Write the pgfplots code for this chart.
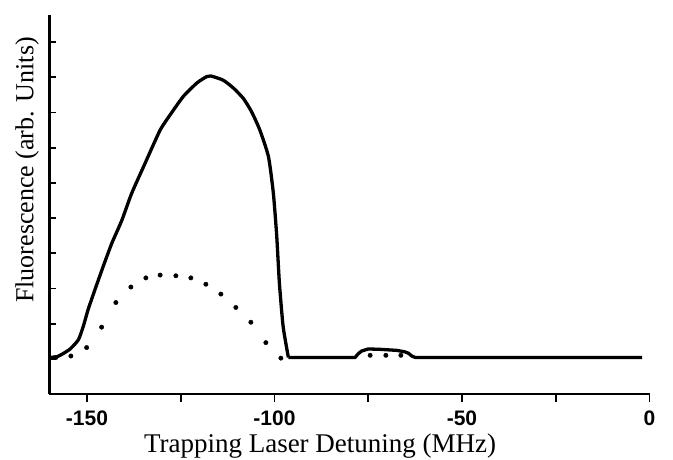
\documentclass[border=0pt]{standalone}
\usepackage{fontspec}
\setmainfont{Liberation Serif}
\newfontfamily\tickfont{Liberation Sans}
\usepackage{pgfplots}
\pgfplotsset{compat=1.18}
\begin{document}
\begin{tikzpicture}
\path[use as bounding box] (-49.5pt,-65pt) rectangle (623.5pt,394pt);
\begin{axis}[
  scale only axis,
  width=600pt, height=379pt,
  xmin=-160, xmax=0,
  ymin=-0.5, ymax=4.886,
  axis x line=bottom, axis y line=left,
  axis line style={-, line width=2.6pt},
  xtick={-150,-100,-50,0},
  xticklabels={-150,-100,-50,0},
  minor xtick={-125,-75,-25},
  ytick={0,0.5,...,4.5},
  yticklabels={},
  tick align=inside,
  major tick length=6.5pt, minor tick length=6.5pt,
  every tick/.style={black, line width=1.8pt},
  x tick style={yshift=-7.5pt},
  xticklabel style={font=\tickfont\bfseries\fontsize{21}{21}\selectfont, anchor=base, inner sep=0pt, yshift=-31pt},
  xlabel={Trapping Laser Detuning (MHz)},
  ylabel={Fluorescence (arb. Units)},
  xlabel style={font=\fontsize{27}{27}\selectfont, inner sep=0pt, at={(axis description cs:0.451,-0.154)}, anchor=base},
  ylabel style={font=\fontsize{26}{26}\selectfont, inner sep=0pt, at={(axis description cs:-0.027,0.591)}, anchor=base, rotate=0},
  clip=false,
]
\addplot[black, line width=3.3pt, line join=round, smooth, tension=0.35] coordinates {
(-160,0.02) (-158,0.03) (-156.5,0.07) (-154.5,0.14) (-152.3,0.27) (-151,0.46)
(-149.7,0.70) (-147.9,0.98) (-145.7,1.31) (-143.4,1.64) (-140.7,1.97) (-138.1,2.35)
(-134.5,2.78) (-130.5,3.25) (-127.4,3.50) (-124.3,3.73) (-120.7,3.92) (-118.1,4.01) (-117.0,4.02)
(-113.7,3.96) (-111.0,3.85) (-108.3,3.70) (-106.1,3.51) (-103.9,3.25) (-101.6,2.87)
(-100.3,2.35) (-99.4,1.74) (-98.7,1.08) (-97.7,0.46) (-96.3,0.02)
};
\addplot[black, line width=3.3pt, line join=round] coordinates {
(-96.3,0.02)
(-78.5,0.02) (-77.7,0.07) (-76.8,0.11) (-75.0,0.14) (-71.9,0.135) (-67.4,0.12) (-65.3,0.10) (-64.3,0.08)
(-63.4,0.04) (-62.5,0.02) (-2.0,0.02)
};
\addplot[black, only marks, mark=*, mark size=2.2pt] coordinates {
(-158.3,0.02) (-154.3,0.04) (-150.1,0.16) (-146.1,0.45) (-142.3,0.80) (-138.3,1.02)
(-134.3,1.15) (-130.5,1.19) (-126.3,1.18) (-122.3,1.15) (-118.3,1.06) (-114.3,0.92)
(-110.3,0.73) (-106.3,0.52) (-102.3,0.23) (-98.3,0.01)
(-74.5,0.05) (-70.3,0.05) (-66.3,0.05)
};
\end{axis}
\end{tikzpicture}
\end{document}
